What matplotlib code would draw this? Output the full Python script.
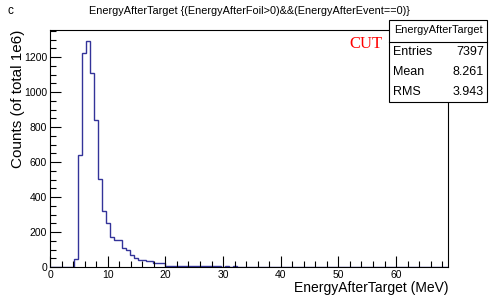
import numpy as np
import matplotlib
matplotlib.use('Agg')
import matplotlib.pyplot as plt
from matplotlib.ticker import MultipleLocator
from matplotlib.patches import Rectangle

# histogram: 100 bins between 0 and 69 MeV
n_bins = 100
x_min, x_max = 0.0, 69.0

# counts per bin (bins 0..99)
counts = [0, 0, 0, 0, 0, 0, 43, 640, 1225, 1291,
          1112, 838, 501, 320, 254, 170, 153, 153, 111, 96,
          67, 53, 42, 42, 32, 32, 25, 25, 25, 7,
          5, 3, 8, 6, 7, 5, 6, 4, 5, 4,
          3, 4, 3, 2, 3, 2, 3, 2, 1, 2,
          1, 1, 0, 1, 0, 1, 2, 2, 0, 2,
          2, 2, 1, 0, 0, 1, 2, 2, 1, 0,
          0, 1, 0, 0, 0, 0, 0, 1, 0, 0,
          1, 1, 0, 0, 0, 1, 0, 0, 0, 0,
          0, 1, 0, 0, 0, 0, 0, 0, 0, 0]

stat_names = ['Entries', 'Mean', 'RMS']
stat_values = ['7397', '8.261', '3.943']

title = 'EnergyAfterTarget {(EnergyAfterFoil>0)&&(EnergyAfterEvent==0)}'
hist_name = 'EnergyAfterTarget'

plt.rcParams['font.family'] = ['Liberation Sans', 'DejaVu Sans']

fig = plt.figure(figsize=(4.98, 2.97), dpi=100)
ax = fig.add_axes([50 / 498, 1 - 267 / 297, 398 / 498, 237 / 297])

edges = np.linspace(x_min, x_max, n_bins + 1)
ax.stairs(counts, edges, color='#333399', linewidth=1.0, baseline=0)

ax.set_xlim(x_min, x_max)
ax.set_ylim(0, max(counts) * 1.05)

ax.xaxis.set_major_locator(MultipleLocator(10))
ax.xaxis.set_minor_locator(MultipleLocator(2))
ax.yaxis.set_major_locator(MultipleLocator(200))
ax.yaxis.set_minor_locator(MultipleLocator(50))
ax.tick_params(which='both', direction='in', top=False, right=False,
               labelsize=7.5, pad=2)
ax.tick_params(which='major', length=8, width=0.8)
ax.tick_params(which='minor', length=4, width=0.8)
for s in ax.spines.values():
    s.set_linewidth(0.8)

ax.set_xlabel('EnergyAfterTarget (MeV)', fontsize=10, loc='right', labelpad=1)
ax.set_ylabel('Counts (of total 1e6)', fontsize=11, loc='top')
ax.yaxis.set_label_coords(-0.062, 1.0)

fig.text(249 / 498, 1 - 11 / 297, title, ha='center', va='center', fontsize=7.8)
fig.text(8 / 498, 1 - 11 / 297, 'c', ha='left', va='center', fontsize=8.5)

# red CUT label
fig.text(366 / 498, 1 - 44 / 297, 'CUT', ha='center', va='center',
         fontsize=12, color='red', family=['Liberation Serif', 'DejaVu Serif'])

# stats box
bx0, bx1 = 389 / 498, 487 / 498
by0, by1 = 1 - 102 / 297, 1 - 20 / 297
fig.patches.append(Rectangle((bx0, by0), bx1 - bx0, by1 - by0,
                             transform=fig.transFigure, facecolor='white',
                             edgecolor='black', linewidth=0.8, zorder=5))
fig.lines.append(plt.Line2D([bx0, bx1], [1 - 41.7 / 297] * 2,
                            transform=fig.transFigure, color='black',
                            linewidth=0.8, zorder=6))
fig.text((bx0 + bx1) / 2, 1 - 30 / 297, hist_name, ha='center', va='center',
         fontsize=7.8, zorder=7)
for i, (name, val) in enumerate(zip(stat_names, stat_values)):
    yy = 1 - (52 + 20 * i) / 297
    fig.text(393 / 498, yy, name, ha='left', va='center', fontsize=9, zorder=7)
    fig.text(484 / 498, yy, val, ha='right', va='center', fontsize=9, zorder=7)

fig.savefig('out.png', dpi=100)
